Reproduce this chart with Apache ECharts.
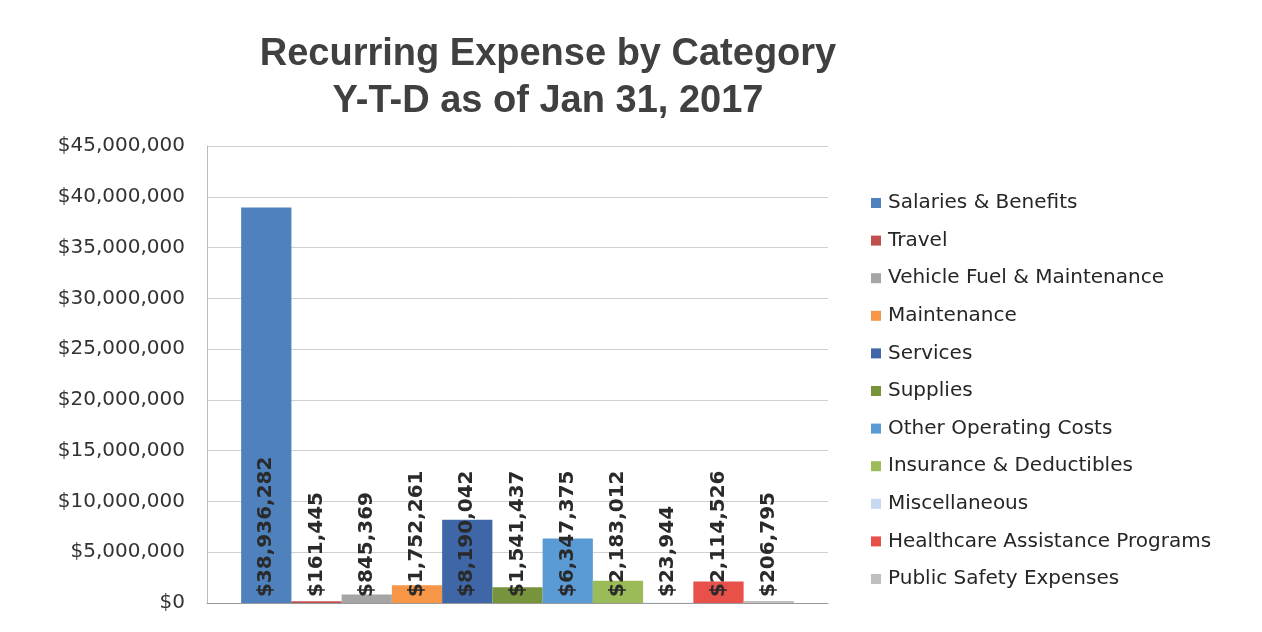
<!DOCTYPE html>
<html>
<head>
<meta charset="utf-8">
<script src="https://cdn.jsdelivr.net/npm/echarts@6/dist/echarts.min.js"></script>
<style>
html,body{margin:0;padding:0;background:#fff;}
#chart{width:1262px;height:632px;}
</style>
</head>
<body>
<div id="chart"></div>
<script>
const seriesNames = [
  'Salaries & Benefits','Travel','Vehicle Fuel & Maintenance','Maintenance','Services',
  'Supplies','Other Operating Costs','Insurance & Deductibles','Miscellaneous',
  'Healthcare Assistance Programs','Public Safety Expenses'
];
const seriesValues = [38936282,161445,845369,1752261,8190042,1541437,6347375,2183012,23944,2114526,206795];
const yTicks = [0,5000000,10000000,15000000,20000000,25000000,30000000,35000000,40000000,45000000];
const palette = ['#4F81BD','#C0504D','#A5A5A5','#F79646','#3F67A8','#77933C','#5B9BD5','#9BBB59','#C6D9F1','#E8504A','#BFBFBF'];

const fmt = v => '$' + Math.round(v).toString().replace(/\B(?=(\d{3})+(?!\d))/g, ',');
const TITLE_FONT = '"Liberation Sans Narrow","Liberation Sans",sans-serif';
const FONT = '"DejaVu Sans",sans-serif';

const chart = echarts.init(document.getElementById('chart'));
chart.setOption({
  backgroundColor:'#fff',
  animation:false,
  title:{
    text:'Recurring Expense by Category\nY-T-D as of Jan 31, 2017',
    left:543, top:26, textAlign:'center',
    textStyle:{fontFamily:TITLE_FONT,fontSize:38,fontWeight:'bold',color:'#404040',lineHeight:47}
  },
  legend:{
    orient:'vertical', left:866, top:187, itemGap:15.6, itemWidth:10, itemHeight:10,
    icon:'rect',
    textStyle:{fontFamily:FONT,fontSize:20,color:'#262626',lineHeight:22,padding:[0,0,0,2]},
    data:seriesNames
  },
  grid:{left:207,right:434,top:146,bottom:29,containLabel:false},
  xAxis:{
    type:'category', data:[''],
    axisLine:{lineStyle:{color:'#999'}}, axisTick:{show:false}, axisLabel:{show:false}
  },
  yAxis:{
    type:'value', min:yTicks[0], max:yTicks[yTicks.length-1], interval:yTicks[1]-yTicks[0],
    axisLine:{show:true,lineStyle:{color:'#bbb'}}, axisTick:{show:false},
    splitLine:{lineStyle:{color:'#d0d0d0'}},
    axisLabel:{formatter:fmt,fontFamily:FONT,fontSize:20,color:'#333',margin:22}
  },
  series: seriesNames.map((n,i)=>({
    name:n, type:'bar', data:[seriesValues[i]],
    barGap:'0%', barCategoryGap:'11%',
    itemStyle:{color:palette[i]},
    label:{
      show:true, position:'insideBottom', rotate:90, distance:6,
      align:'left', verticalAlign:'middle',
      formatter:p=>fmt(p.value),
      fontFamily:FONT, fontSize:20, fontWeight:'bold', color:'#2a2a2a'
    }
  }))
});
</script>
</body>
</html>
